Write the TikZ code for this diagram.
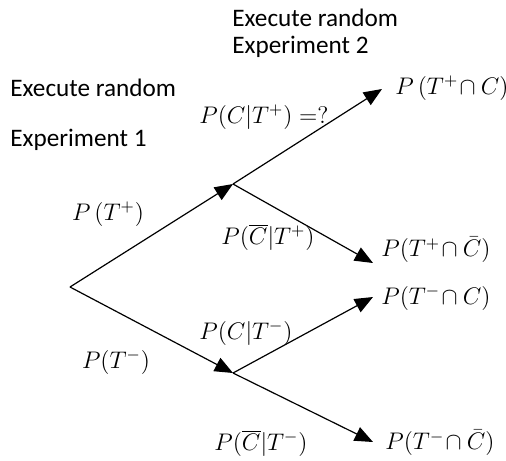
\documentclass[tikz,border=0pt]{standalone}
\usepackage{fontspec}
\setmainfont{Carlito}
\usetikzlibrary{arrows.meta, positioning}
\tikzset{
  branch/.style = {-{Triangle[length=3.2mm, width=2.6mm]}, semithick},
  note/.style   = {font=\fontsize{12.6}{15}\selectfont, anchor=west, inner sep=0pt},
  prob/.style   = {font=\fontsize{12}{14}\selectfont, inner sep=0pt},
  leaf/.style   = {font=\fontsize{11.5}{14}\selectfont, anchor=west, inner sep=0pt},
}
\begin{document}
\begin{tikzpicture}[x=0.5pt, y=-0.5pt]
  \useasboundingbox (0,0) rectangle (506,460);
  % stages
  \node[note] (exp2a) at (232,18)  {Execute random};
  \node[note] (exp2b) at (232,47)  {Experiment 2};
  \node[note] (exp1a) at (10,88)   {Execute random};
  \node[note] (exp1b) at (10,140)  {Experiment 1};
  % branch points
  \coordinate (root) at (70,287);
  \coordinate (tp)   at (233,184);
  \coordinate (tm)   at (233,373);
  \coordinate (e1)   at (382,89);
  \coordinate (e2)   at (373,263);
  \coordinate (e3)   at (373,297);
  \coordinate (e4)   at (373,442);
  % outcomes
  \node[leaf] (l1) at (395,88)  {$P\,(T^{+}\!\cap C)$};
  \node[leaf] (l2) at (381,250) {$P(T^{+}\!\cap \bar{C})$};
  \node[leaf] (l3) at (381,298) {$P(T^{-}\!\cap C)$};
  \node[leaf] (l4) at (385,443) {$P(T^{-}\!\cap \bar{C})$};
  % branches
  \draw[branch] (root) -- (tp);
  \draw[branch] (root) -- (tm);
  \draw[branch] (tp) -- (e1);
  \draw[branch] (tp) -- (e2);
  \draw[branch] (tm) -- (e3);
  \draw[branch] (tm) -- (e4);
  % probabilities
  \node[prob] (pc1)  at (264,117) {$P(C|T^{+})=?$};
  \node[prob] (ptp)  at (108,214) {$P\,(T^{+})$};
  \node[prob] (pnc1) at (268,237) {$P(\overline{C}|T^{+})$};
  \node[prob] (pc2)  at (246,333) {$P(C|T^{-})$};
  \node[prob] (ptm)  at (116,362) {$P(T^{-})$};
  \node[prob] (pnc2) at (261,443) {$P(\overline{C}|T^{-})$};
\end{tikzpicture}
\end{document}
